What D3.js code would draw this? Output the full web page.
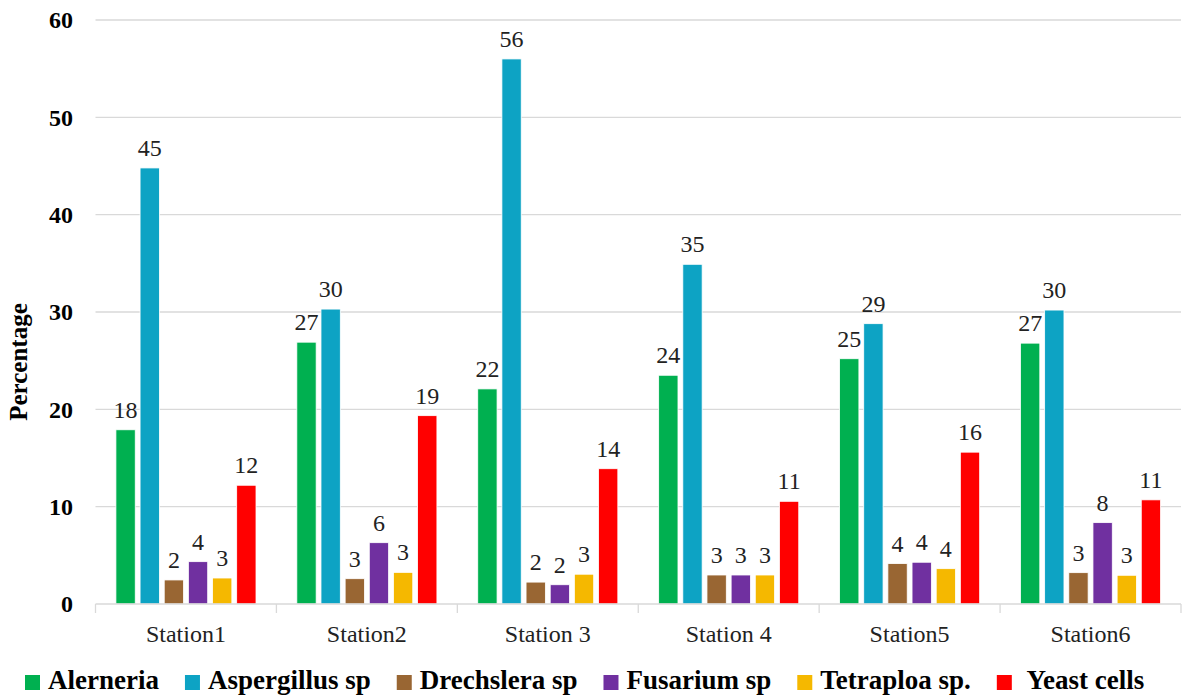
<!DOCTYPE html>
<html>
<head>
<meta charset="utf-8">
<script src="https://cdn.jsdelivr.net/npm/d3@7/dist/d3.min.js"></script>
<style>
  html, body { margin: 0; padding: 0; background: #fff; }
</style>
</head>
<body>
<svg id="chart" width="1191" height="697" font-family="'Liberation Serif', serif"></svg>
<script>
// ---- data ----
const stations = ["Station1", "Station2", "Station 3", "Station 4", "Station5", "Station6"];
const seriesNames = ["Alerneria", "Aspergillus sp", "Drechslera sp", "Fusarium sp", "Tetraploa sp.", "Yeast cells"];
const alerneria   = [17.9, 26.9, 22.1, 23.5, 25.2, 26.8];
const aspergillus = [44.8, 30.3, 56.0, 34.9, 28.8, 30.2];
const drechslera  = [2.47, 2.6, 2.25, 2.98, 4.15, 3.22];
const fusarium    = [4.35, 6.3, 1.98, 2.98, 4.29, 8.36];
const tetraploa   = [2.67, 3.25, 3.06, 2.98, 3.63, 2.95];
const yeast       = [12.2, 19.35, 13.9, 10.55, 15.6, 10.7];
const seriesValues = [alerneria, aspergillus, drechslera, fusarium, tetraploa, yeast];
const yTicks = [0, 10, 20, 30, 40, 50, 60];
const colors = ["#00B050", "#0DA3C4", "#996633", "#7030A0", "#F5B800", "#FF0000"];

(function () {
const FONT = "'Liberation Serif', serif";
const svg = d3.select("#chart");
const pLeft = 95.5, pRight = 1181, pTop = 20, pBottom = 604;

const x = d3.scaleBand().domain(stations).range([pLeft, pRight]).paddingInner(0).paddingOuter(0);
const xs = d3.scaleBand().domain(seriesNames).range([0, x.bandwidth()]).paddingInner(0.2).paddingOuter(0.845);
const y = d3.scaleLinear().domain([0, 60]).range([pBottom, pTop]);

// gridlines
svg.append("g").selectAll("line").data(yTicks.filter(d => d > 0)).join("line")
  .attr("x1", pLeft).attr("x2", pRight)
  .attr("y1", d => y(d)).attr("y2", d => y(d))
  .attr("stroke", "#d9d9d9").attr("stroke-width", 1.3);

// y tick labels
svg.append("g").selectAll("text").data(yTicks).join("text")
  .attr("x", 73).attr("y", d => y(d)).attr("dy", "0.35em")
  .attr("font-family", FONT)
  .attr("text-anchor", "end").attr("font-weight", "bold").attr("font-size", 24)
  .attr("fill", "#000").text(d => d);

// y axis title
svg.append("text")
  .attr("transform", "translate(27,362) rotate(-90)")
  .attr("font-family", FONT)
  .attr("text-anchor", "middle").attr("font-weight", "bold").attr("font-size", 25)
  .text("Percentage");

// bars
const groups = svg.append("g").selectAll("g").data(stations).join("g")
  .attr("transform", d => `translate(${x(d)},0)`);

groups.each(function (st, i) {
  const g = d3.select(this);
  const rows = seriesNames.map((s, j) => ({ s, j, v: seriesValues[j][i] }));
  g.selectAll("rect").data(rows).join("rect")
    .attr("x", d => xs(d.s)).attr("width", xs.bandwidth())
    .attr("y", d => y(d.v)).attr("height", d => y(0) - y(d.v))
    .attr("fill", d => colors[d.j])
    .attr("stroke", "#ffffff").attr("stroke-width", 0.8);
  g.selectAll("text").data(rows).join("text")
    .attr("x", d => xs(d.s) + xs.bandwidth() / 2)
    .attr("y", d => y(d.v) - 12)
    .attr("font-family", FONT)
    .attr("text-anchor", "middle").attr("font-size", 24).attr("fill", "#222")
    .text(d => Math.round(d.v));
});

// x axis line + ticks
svg.append("line").attr("x1", pLeft).attr("x2", pRight).attr("y1", pBottom).attr("y2", pBottom)
  .attr("stroke", "#d9d9d9").attr("stroke-width", 1.3);
const bounds = stations.map(s => x(s)).concat([x(stations[stations.length - 1]) + x.bandwidth()]);
svg.append("g").selectAll("line").data(bounds).join("line")
  .attr("x1", d => d).attr("x2", d => d).attr("y1", pBottom).attr("y2", pBottom + 9)
  .attr("stroke", "#d9d9d9").attr("stroke-width", 1.3);

// category labels
svg.append("g").selectAll("text").data(stations).join("text")
  .attr("x", d => x(d) + x.bandwidth() / 2).attr("y", 642)
  .attr("font-family", FONT)
  .attr("text-anchor", "middle").attr("font-size", 24).attr("fill", "#222")
  .text(d => d);

// legend
const legend = svg.append("g");
let lx = 25;
seriesNames.forEach((s, j) => {
  const label = (j === 5 ? "\u00A0" : "") + s;
  legend.append("rect").attr("x", lx).attr("y", 675).attr("width", 15).attr("height", 15)
    .attr("fill", colors[j]);
  const t = legend.append("text").attr("x", lx + 23).attr("y", 689)
    .attr("font-family", FONT)
    .attr("font-weight", "bold").attr("font-size", 27).attr("fill", "#000").text(label);
  const w = t.node().getComputedTextLength();
  lx = lx + 23 + w + 26;
});
})();
</script>
</body>
</html>
